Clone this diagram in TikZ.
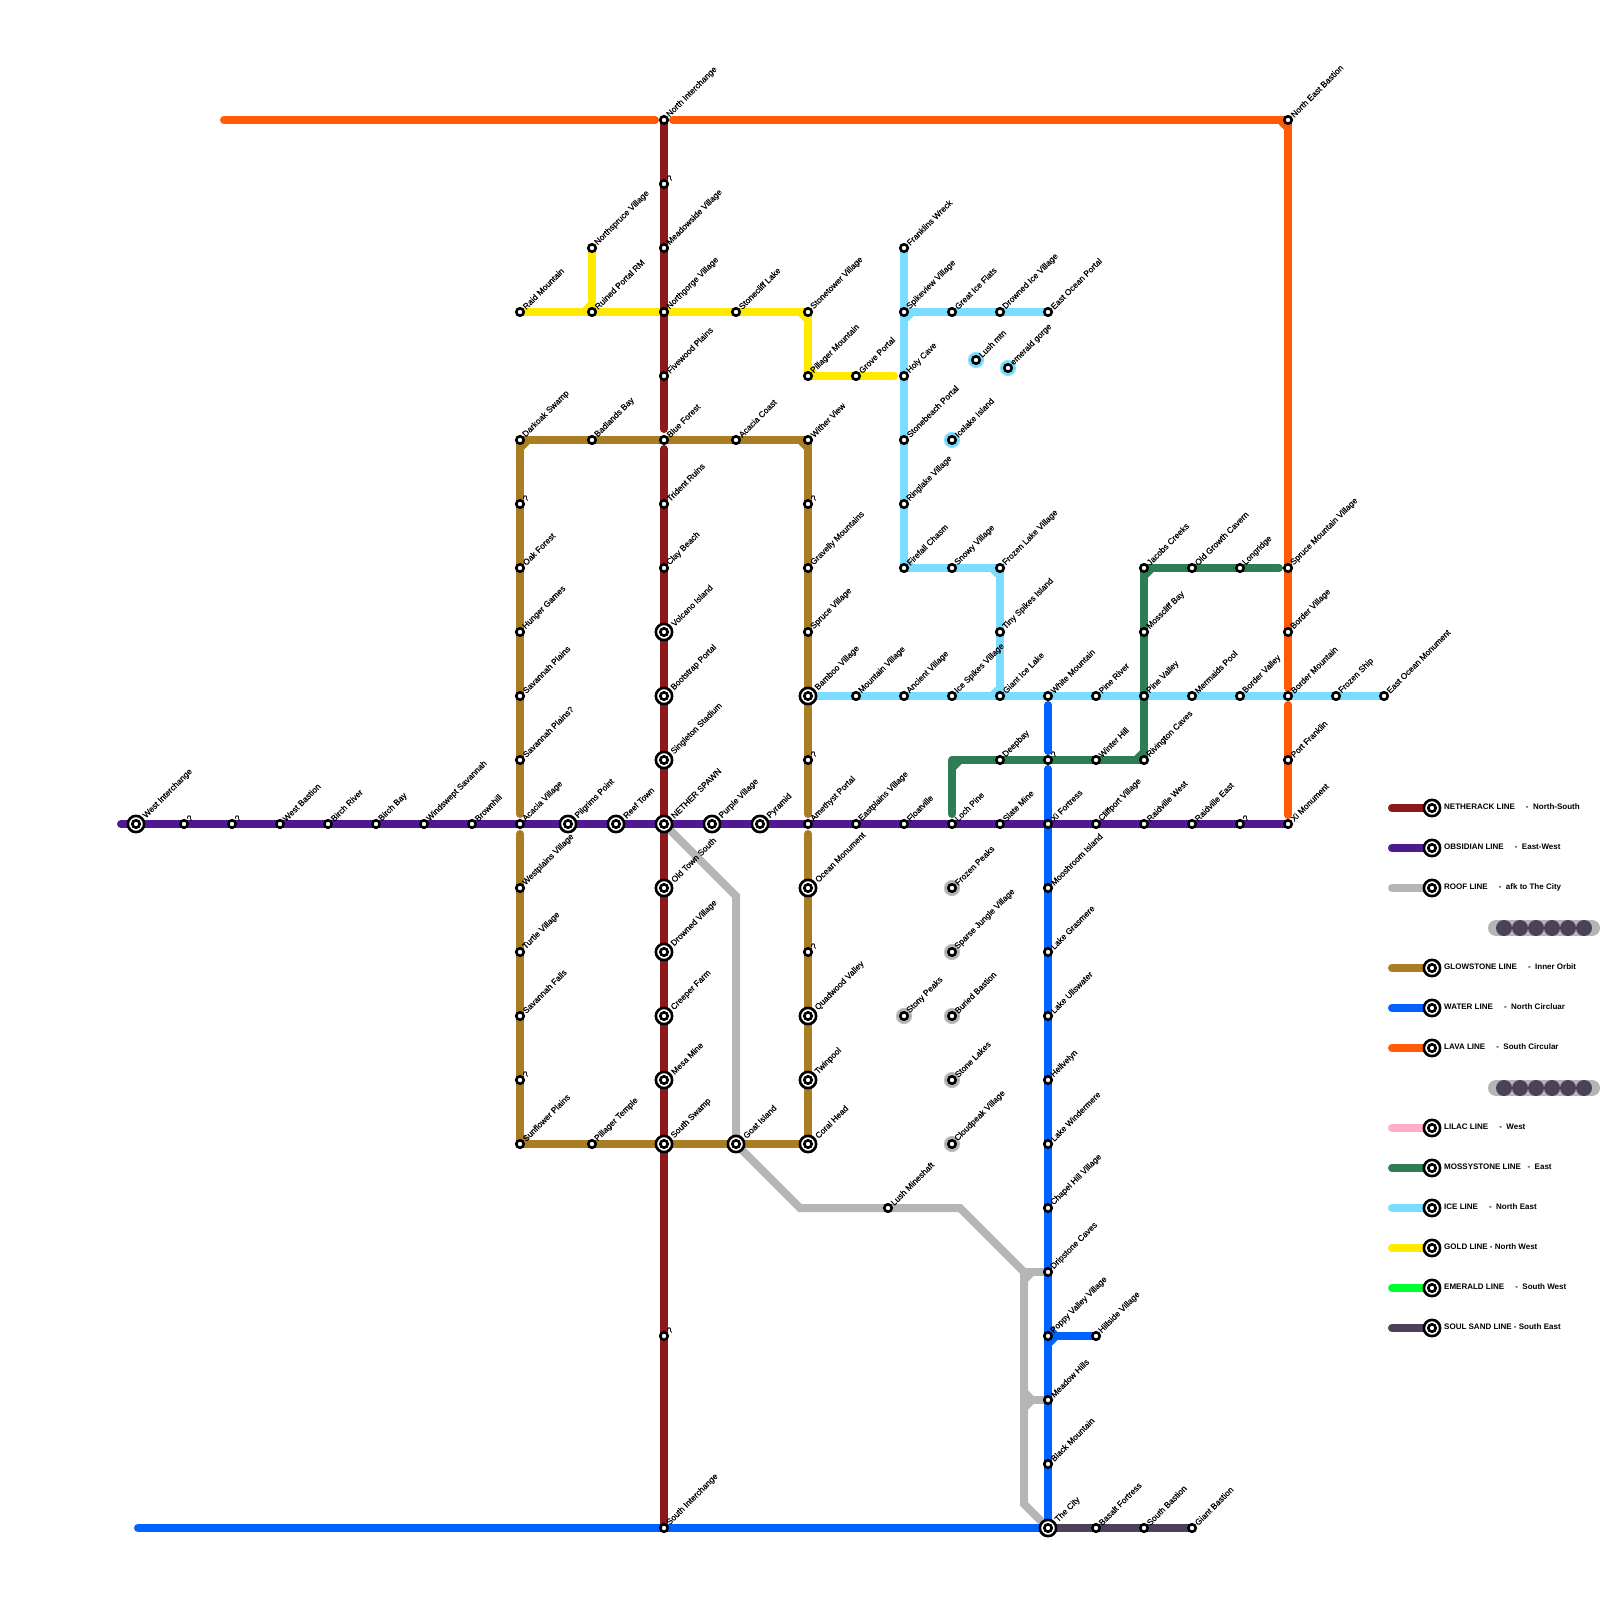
\documentclass[tikz,border=0pt]{standalone}
\usepackage{fontspec}
\setmainfont{Liberation Sans}
\newfontfamily\stopfont[FakeBold=0.4]{Liberation Sans}
\usetikzlibrary{backgrounds}
\definecolor{nethercol}{HTML}{8B1A1C}
\definecolor{obsidiancol}{HTML}{4F1A8F}
\definecolor{roofcol}{HTML}{B5B5B5}
\definecolor{glowcol}{HTML}{A97D22}
\definecolor{watercol}{HTML}{0062FF}
\definecolor{lavacol}{HTML}{FF5A05}
\definecolor{lilaccol}{HTML}{FFAEC9}
\definecolor{mosscol}{HTML}{2E7D54}
\definecolor{icecol}{HTML}{7ADCFF}
\definecolor{goldcol}{HTML}{FFEA00}
\definecolor{emeraldcol}{HTML}{00FF2E}
\definecolor{soulcol}{HTML}{4D4059}

\begin{document}
\begin{tikzpicture}[
                x=1pt, y=-1pt,
                stop/.style={draw=black, line width=2.6pt, circle, fill=white, inner sep=0pt, outer sep=0pt, minimum size=7.5pt},
                bigstop/.style={draw=black, line width=2.6pt, circle, fill=white, inner sep=0pt, outer sep=0pt, minimum size=16.3pt,
                    path picture={\draw[line width=2.6pt] (path picture bounding box.center) circle (3.7pt);}},
                maplabel/.style={font=\stopfont\fontsize{8.4}{10}\selectfont, inner sep=0pt, xshift=0.3pt, yshift=4pt, rotate=45},
                bigmaplabel/.style={font=\stopfont\fontsize{8.4}{10}\selectfont, inner sep=0pt, xshift=0.3pt, yshift=7pt, rotate=45},
                keylabel/.style={font=\bfseries\fontsize{8}{10}\selectfont, inner sep=0pt, anchor=west},
                souldot/.style={circle, fill=soulcol, inner sep=0pt, minimum size=16pt},
                track/.style={line width=8pt, line cap=round, line join=round},
                netherline/.style={track, draw=nethercol},
                obsidianline/.style={track, draw=obsidiancol},
                roofline/.style={track, draw=roofcol, line join=miter},
                glowline/.style={track, draw=glowcol},
                waterline/.style={track, draw=watercol},
                lavaline/.style={track, draw=lavacol},
                lilacline/.style={track, draw=lilaccol},
                mossline/.style={track, draw=mosscol},
                iceline/.style={track, draw=icecol},
                goldline/.style={track, draw=goldcol},
                emeraldline/.style={track, draw=emeraldcol},
                soulline/.style={track, draw=soulcol}
            ]
            \useasboundingbox (0,0) rectangle (1600,1600);

            % Netherack stations
            \node[stop, label={[maplabel]right:North Interchange}] (northint) at (664,120) {};
            \node[stop, label={[maplabel]right:?}] (netherqa) at (664,184) {};
            \node[stop, label={[maplabel]right:Meadowside Village}] (meadowside) at (664,248) {};
            \node[stop, label={[maplabel]right:Northgorge Village}] (northgorge) at (664,312) {};
            \node[stop, label={[maplabel]right:Fivewood Plains}] (fivewood) at (664,376) {};
            \node[stop, label={[maplabel]right:Blue Forest}] (blueforest) at (664,440) {};
            \node[stop, label={[maplabel]right:Trident Ruins}] (trident) at (664,504) {};
            \node[stop, label={[maplabel]right:Clay Beach}] (claybeach) at (664,568) {};
            \node[bigstop, label={[bigmaplabel]right:Volcano Island}] (volcano) at (664,632) {};
            \node[bigstop, label={[bigmaplabel]right:Bootstrap Portal}] (bootstrap) at (664,696) {};
            \node[bigstop, label={[bigmaplabel]right:Singleton Stadium}] (singleton) at (664,760) {};
            \node[bigstop, label={[bigmaplabel]right:NETHER SPAWN}] (netherspawn) at (664,824) {};
            \node[bigstop, label={[bigmaplabel]right:Old Town South}] (oldtown) at (664,888) {};
            \node[bigstop, label={[bigmaplabel]right:Drowned Village}] (drowned) at (664,952) {};
            \node[bigstop, label={[bigmaplabel]right:Creeper Farm}] (creeper) at (664,1016) {};
            \node[bigstop, label={[bigmaplabel]right:Mesa Mine}] (mesa) at (664,1080) {};
            \node[bigstop, label={[bigmaplabel]right:South Swamp}] (southswamp) at (664,1144) {};
            \node[stop, label={[maplabel]right:?}] (netherqb) at (664,1336) {};
            \node[stop, label={[maplabel]right:South Interchange}] (southint) at (664,1528) {};

            % Glowstone stations
            \node[stop, label={[maplabel]right:Darkoak Swamp}] (darkoak) at (520,440) {};
            \node[stop, label={[maplabel]right:?}] (glowqa) at (520,504) {};
            \node[stop, label={[maplabel]right:Oak Forest}] (oakforest) at (520,568) {};
            \node[stop, label={[maplabel]right:Hunger Games}] (hunger) at (520,632) {};
            \node[stop, label={[maplabel]right:Savannah Plains}] (savplains) at (520,696) {};
            \node[stop, label={[maplabel]right:Savannah Plains?}] (savplainsq) at (520,760) {};
            \node[stop, label={[maplabel]right:Acacia Village}] (acacia) at (520,824) {};
            \node[stop, label={[maplabel]right:Westplains Village}] (westplains) at (520,888) {};
            \node[stop, label={[maplabel]right:Turtle Village}] (turtle) at (520,952) {};
            \node[stop, label={[maplabel]right:Savannah Falls}] (savfalls) at (520,1016) {};
            \node[stop, label={[maplabel]right:?}] (glowqb) at (520,1080) {};
            \node[stop, label={[maplabel]right:Sunflower Plains}] (sunflower) at (520,1144) {};
            \node[stop, label={[maplabel]right:Pillager Temple}] (pilltemple) at (592,1144) {};
            \node[bigstop, label={[bigmaplabel]right:Goat Island}] (goat) at (736,1144) {};
            \node[bigstop, label={[bigmaplabel]right:Coral Head}] (coral) at (808,1144) {};
            \node[stop, label={[maplabel]right:Badlands Bay}] (badlands) at (592,440) {};
            \node[stop, label={[maplabel]right:Acacia Coast}] (acaciacoast) at (736,440) {};
            \node[stop, label={[maplabel]right:Wither View}] (wither) at (808,440) {};
            \node[stop, label={[maplabel]right:?}] (glowqc) at (808,504) {};
            \node[stop, label={[maplabel]right:Gravelly Mountains}] (gravelly) at (808,568) {};
            \node[stop, label={[maplabel]right:Spruce Village}] (sprucev) at (808,632) {};
            \node[bigstop, label={[bigmaplabel]right:Bamboo Village}] (bamboo) at (808,696) {};
            \node[stop, label={[maplabel]right:?}] (glowqd) at (808,760) {};
            \node[stop, label={[maplabel]right:Amethyst Portal}] (amethyst) at (808,824) {};
            \node[bigstop, label={[bigmaplabel]right:Ocean Monument}] (oceanmon) at (808,888) {};
            \node[stop, label={[maplabel]right:?}] (glowqe) at (808,952) {};
            \node[bigstop, label={[bigmaplabel]right:Quadwood Valley}] (quadwood) at (808,1016) {};
            \node[bigstop, label={[bigmaplabel]right:Twinpool}] (twinpool) at (808,1080) {};

            % Obsidian stations
            \node[bigstop, label={[bigmaplabel]right:West Interchange}] (westint) at (136,824) {};
            \node[stop, label={[maplabel]right:?}] (obsqa) at (184,824) {};
            \node[stop, label={[maplabel]right:?}] (obsqb) at (232,824) {};
            \node[stop, label={[maplabel]right:West Bastion}] (westbastion) at (280,824) {};
            \node[stop, label={[maplabel]right:Birch River}] (birchriver) at (328,824) {};
            \node[stop, label={[maplabel]right:Birch Bay}] (birchbay) at (376,824) {};
            \node[stop, label={[maplabel]right:Windswept Savannah}] (windswept) at (424,824) {};
            \node[stop, label={[maplabel]right:Brownhill}] (brownhill) at (472,824) {};
            \node[bigstop, label={[bigmaplabel]right:Pilgrims Point}] (pilgrims) at (568,824) {};
            \node[bigstop, label={[bigmaplabel]right:Reef Town}] (reeftown) at (616,824) {};
            \node[bigstop, label={[bigmaplabel]right:Purple Village}] (purplev) at (712,824) {};
            \node[bigstop, label={[bigmaplabel]right:Pyramid}] (pyramid) at (760,824) {};
            \node[stop, label={[maplabel]right:Eastplains Village}] (eastplains) at (856,824) {};
            \node[stop, label={[maplabel]right:Floatville}] (floatville) at (904,824) {};
            \node[stop, label={[maplabel]right:Loch Pine}] (lochpine) at (952,824) {};
            \node[stop, label={[maplabel]right:Slate Mine}] (slatemine) at (1000,824) {};
            \node[stop, label={[maplabel]right:Xi Fortress}] (xifort) at (1048,824) {};
            \node[stop, label={[maplabel]right:Cliffport Village}] (cliffport) at (1096,824) {};
            \node[stop, label={[maplabel]right:Raidville West}] (raidwest) at (1144,824) {};
            \node[stop, label={[maplabel]right:Raidville East}] (raideast) at (1192,824) {};
            \node[stop, label={[maplabel]right:?}] (obsqc) at (1240,824) {};
            \node[stop, label={[maplabel]right:Xi Monument}] (ximon) at (1288,824) {};

            % Gold stations
            \node[stop, label={[maplabel]right:Raid Mountain}] (raidmtn) at (520,312) {};
            \node[stop, label={[maplabel]right:Northspruce Village}] (northspruce) at (592,248) {};
            \node[stop, label={[maplabel]right:Ruined Portal RM}] (ruinedportal) at (592,312) {};
            \node[stop, label={[maplabel]right:Stonecliff Lake}] (stonecliff) at (736,312) {};
            \node[stop, label={[maplabel]right:Stonetower Village}] (stonetower) at (808,312) {};
            \node[stop, label={[maplabel]right:Pillager Mountain}] (pillmtn) at (808,376) {};
            \node[stop, label={[maplabel]right:Grove Portal}] (grove) at (856,376) {};

            % Ice stations
            \node[stop, label={[maplabel]right:Franklins Wreck}] (franklins) at (904,248) {};
            \node[stop, label={[maplabel]right:Spikeview Village}] (spikeview) at (904,312) {};
            \node[stop, label={[maplabel]right:Holy Cave}] (holycave) at (904,376) {};
            \node[stop, label={[maplabel]right:Stonebeach Portal}] (stonebeach) at (904,440) {};
            \node[stop, label={[maplabel]right:Ringlake Village}] (ringlake) at (904,504) {};
            \node[stop, label={[maplabel]right:Firefall Chasm}] (firefall) at (904,568) {};
            \node[stop, label={[maplabel]right:Great Ice Flats}] (greatice) at (952,312) {};
            \node[stop, label={[maplabel]right:Drowned Ice Village}] (drownedice) at (1000,312) {};
            \node[stop, label={[maplabel]right:East Ocean Portal}] (eastportal) at (1048,312) {};
            \node[stop, label={[maplabel]right:Lush mtn}] (lushmtn) at (976,360) {};
            \node[stop, label={[maplabel]right:emerald gorge}] (emgorge) at (1008,368) {};
            \node[stop, label={[maplabel]right:Icelake Island}] (icelake) at (952,440) {};
            \node[stop, label={[maplabel]right:Snowy Village}] (snowy) at (952,568) {};
            \node[stop, label={[maplabel]right:Frozen Lake Village}] (frozenlake) at (1000,568) {};
            \node[stop, label={[maplabel]right:Tiny Spikes Island}] (tinyspikes) at (1000,632) {};
            \node[stop, label={[maplabel]right:Giant Ice Lake}] (giantice) at (1000,696) {};
            \node[stop, label={[maplabel]right:Mountain Village}] (mountainv) at (856,696) {};
            \node[stop, label={[maplabel]right:Ancient Village}] (ancient) at (904,696) {};
            \node[stop, label={[maplabel]right:Ice Spikes Village}] (icespikes) at (952,696) {};
            \node[stop, label={[maplabel]right:White Mountain}] (whitemtn) at (1048,696) {};
            \node[stop, label={[maplabel]right:Pine River}] (pineriver) at (1096,696) {};
            \node[stop, label={[maplabel]right:Pine Valley}] (pinevalley) at (1144,696) {};
            \node[stop, label={[maplabel]right:Mermaids Pool}] (mermaids) at (1192,696) {};
            \node[stop, label={[maplabel]right:Border Valley}] (bordervalley) at (1240,696) {};
            \node[stop, label={[maplabel]right:Border Mountain}] (bordermtn) at (1288,696) {};
            \node[stop, label={[maplabel]right:Frozen Ship}] (frozenship) at (1336,696) {};
            \node[stop, label={[maplabel]right:East Ocean Monument}] (eastmon) at (1384,696) {};

            % Mossystone stations
            \node[stop, label={[maplabel]right:Jacobs Creeks}] (jacobs) at (1144,568) {};
            \node[stop, label={[maplabel]right:Old Growth Cavern}] (oldgrowth) at (1192,568) {};
            \node[stop, label={[maplabel]right:Longridge}] (longridge) at (1240,568) {};
            \node[stop, label={[maplabel]right:Mosscliff Bay}] (mosscliff) at (1144,632) {};
            \node[stop, label={[maplabel]right:Rivington Caves}] (rivington) at (1144,760) {};
            \node[stop, label={[maplabel]right:Winter Hill}] (winterhill) at (1096,760) {};
            \node[stop, label={[maplabel]right:?}] (mossq) at (1048,760) {};
            \node[stop, label={[maplabel]right:Deepbay}] (deepbay) at (1000,760) {};

            % Lava stations
            \node[stop, label={[maplabel]right:North East Bastion}] (nebastion) at (1288,120) {};
            \node[stop, label={[maplabel]right:Spruce Mountain Village}] (sprucemtn) at (1288,568) {};
            \node[stop, label={[maplabel]right:Border Village}] (borderv) at (1288,632) {};
            \node[stop, label={[maplabel]right:Port Franklin}] (portfranklin) at (1288,760) {};

            % Roof stations
            \node[stop, label={[maplabel]right:Frozen Peaks}] (frozenpeaks) at (952,888) {};
            \node[stop, label={[maplabel]right:Sparse Jungle Village}] (sparse) at (952,952) {};
            \node[stop, label={[maplabel]right:Buried Bastion}] (buried) at (952,1016) {};
            \node[stop, label={[maplabel]right:Stony Peaks}] (stony) at (904,1016) {};
            \node[stop, label={[maplabel]right:Stone Lakes}] (stonelakes) at (952,1080) {};
            \node[stop, label={[maplabel]right:Cloudpeak Village}] (cloudpeak) at (952,1144) {};
            \node[stop, label={[maplabel]right:Lush Mineshaft}] (lushmine) at (888,1208) {};

            % Water stations
            \node[stop, label={[maplabel]right:Mooshroom Island}] (mooshroom) at (1048,888) {};
            \node[stop, label={[maplabel]right:Lake Grasmere}] (grasmere) at (1048,952) {};
            \node[stop, label={[maplabel]right:Lake Ullswater}] (ullswater) at (1048,1016) {};
            \node[stop, label={[maplabel]right:Hellvelyn}] (hellvelyn) at (1048,1080) {};
            \node[stop, label={[maplabel]right:Lake Windermere}] (windermere) at (1048,1144) {};
            \node[stop, label={[maplabel]right:Chapel Hill Village}] (chapelhill) at (1048,1208) {};
            \node[stop, label={[maplabel]right:Dripstone Caves}] (dripstone) at (1048,1272) {};
            \node[stop, label={[maplabel]right:Poppy Valley Village}] (poppy) at (1048,1336) {};
            \node[stop, label={[maplabel]right:Hillside Village}] (hillside) at (1096,1336) {};
            \node[stop, label={[maplabel]right:Meadow Hills}] (meadowhills) at (1048,1400) {};
            \node[stop, label={[maplabel]right:Black Mountain}] (blackmtn) at (1048,1464) {};
            \node[bigstop, label={[bigmaplabel]right:The City}] (thecity) at (1048,1528) {};
            \node[stop, label={[maplabel]right:Basalt Fortress}] (basalt) at (1096,1528) {};
            \node[stop, label={[maplabel]right:South Bastion}] (southbastion) at (1144,1528) {};
            \node[stop, label={[maplabel]right:Giant Bastion}] (giantbastion) at (1192,1528) {};

            % Key
            \node[bigstop] (keynether) at (1432,808) {};
            \node[bigstop] (keyobsidian) at (1432,848) {};
            \node[bigstop] (keyroof) at (1432,888) {};
            \node[bigstop] (keyglow) at (1432,968) {};
            \node[bigstop] (keywater) at (1432,1008) {};
            \node[bigstop] (keylava) at (1432,1048) {};
            \node[bigstop] (keylilac) at (1432,1128) {};
            \node[bigstop] (keymoss) at (1432,1168) {};
            \node[bigstop] (keyice) at (1432,1208) {};
            \node[bigstop] (keygold) at (1432,1248) {};
            \node[bigstop] (keyemerald) at (1432,1288) {};
            \node[bigstop] (keysoul) at (1432,1328) {};
            \node[keylabel] (keytexta) at (1444,807) {NETHERACK LINE~~~~~-~~North-South};
            \node[keylabel] (keytextb) at (1444,847) {OBSIDIAN LINE~~~~~-~~East-West};
            \node[keylabel] (keytextc) at (1444,887) {ROOF LINE~~~~~-~~afk to The City};
            \node[keylabel] (keytextd) at (1444,967) {GLOWSTONE LINE~~~~~-~~Inner Orbit};
            \node[keylabel] (keytexte) at (1444,1007) {WATER LINE~~~~~-~~North Circluar};
            \node[keylabel] (keytextf) at (1444,1047) {LAVA LINE~~~~~-~~South Circular};
            \node[keylabel] (keytextg) at (1444,1127) {LILAC LINE~~~~~-~~West};
            \node[keylabel] (keytexth) at (1444,1167) {MOSSYSTONE LINE~~~-~~East};
            \node[keylabel] (keytexti) at (1444,1207) {ICE LINE~~~~~-~~North East};
            \node[keylabel] (keytextj) at (1444,1247) {GOLD LINE - North West};
            \node[keylabel] (keytextk) at (1444,1287) {EMERALD LINE~~~~~-~~South West};
            \node[keylabel] (keytextl) at (1444,1327) {SOUL SAND LINE - South East};
            \node[souldot] (dota1) at (1504,928) {};
            \node[souldot] (dota2) at (1520,928) {};
            \node[souldot] (dota3) at (1536,928) {};
            \node[souldot] (dota4) at (1552,928) {};
            \node[souldot] (dota5) at (1568,928) {};
            \node[souldot] (dota6) at (1584,928) {};
            \node[souldot] (dotb1) at (1504,1088) {};
            \node[souldot] (dotb2) at (1520,1088) {};
            \node[souldot] (dotb3) at (1536,1088) {};
            \node[souldot] (dotb4) at (1552,1088) {};
            \node[souldot] (dotb5) at (1568,1088) {};
            \node[souldot] (dotb6) at (1584,1088) {};

            % Free ends and bends
            \coordinate (lavastart) at (224,120);
            \coordinate (obsidianstart) at (121,824);
            \coordinate (waterstart) at (138,1528);
            \coordinate (mossbend) at (952,760);
            \coordinate (roofa) at (736,896);
            \coordinate (roofb) at (800,1208);
            \coordinate (roofc) at (960,1208);
            \coordinate (roofd) at (1024,1272);
            \coordinate (roofe) at (1024,1400);
            \coordinate (rooff) at (1024,1504);

            \begin{scope}[on background layer]
                \fill[white] (0,0) rectangle (1600,1600);

                % Lines
                \draw[lavaline] (lavastart) -- ([xshift=-9pt]northint.center);
                \draw[lavaline] ([xshift=9pt]northint.center) -- (nebastion.center) -- ([yshift=8pt]bordermtn.center);
                \draw[lavaline] ([xshift=-8pt]nebastion.center) -- ([yshift=-8pt]nebastion.center);
                \draw[lavaline] ([yshift=-9pt]bordermtn.center) -- ([yshift=9pt]ximon.center);

                \draw[goldline] (raidmtn.center) -- (stonetower.center) -- (pillmtn.center) -- ([xshift=-10pt]holycave.center);
                \draw[goldline] (northspruce.center) -- (ruinedportal.center);
                \draw[goldline] ([yshift=8pt]ruinedportal.center) -- ([xshift=-8pt]ruinedportal.center);
                \draw[goldline] ([xshift=-8pt]stonetower.center) -- ([yshift=-8pt]stonetower.center);
                \draw[goldline] ([yshift=8pt]pillmtn.center) -- ([xshift=8pt]pillmtn.center);

                \draw[roofline] (netherspawn.center) -- (roofa) -- (goat.center) -- (roofb) -- (roofc) -- (roofd) -- (rooff) -- (thecity.center);
                \draw[roofline] (roofd) -- (dripstone.center);
                \draw[roofline] (roofe) -- (meadowhills.center);
                \draw[roofline] ([yshift=-8pt]roofd) -- ([xshift=8pt]roofd);
                \draw[roofline] ([yshift=8pt]roofe) -- ([xshift=8pt]roofe) -- ([yshift=-8pt]roofe);

                \draw[netherline] (northint.center) -- ([yshift=11pt]blueforest.center);
                \draw[netherline] ([yshift=-9pt]blueforest.center) -- (southint.center);

                \draw[iceline] (franklins.center) -- (firefall.center) -- (frozenlake.center) -- (giantice.center);
                \draw[iceline] (spikeview.center) -- (eastportal.center);
                \draw[iceline] ([yshift=-8pt]spikeview.center) -- ([xshift=8pt]spikeview.center);
                \draw[iceline] ([yshift=8pt]firefall.center) -- ([xshift=8pt]firefall.center);
                \draw[iceline] ([xshift=-8pt]frozenlake.center) -- ([yshift=-8pt]frozenlake.center);
                \draw[iceline] ([yshift=8pt]giantice.center) -- ([xshift=-8pt]giantice.center);
                \draw[iceline] (bamboo.center) -- (eastmon.center);
                \fill[icecol] (lushmtn.center) circle (8pt);
                \fill[icecol] (emgorge.center) circle (8pt);
                \fill[icecol] (icelake.center) circle (8pt);

                \fill[roofcol] (frozenpeaks.center) circle (8pt);
                \fill[roofcol] (sparse.center) circle (8pt);
                \fill[roofcol] (buried.center) circle (8pt);
                \fill[roofcol] (stony.center) circle (8pt);
                \fill[roofcol] (stonelakes.center) circle (8pt);
                \fill[roofcol] (cloudpeak.center) circle (8pt);

                \draw[glowline] ([yshift=10pt]acacia.center) -- (darkoak.center) -- (wither.center) -- ([yshift=10pt]amethyst.center);
                \draw[glowline] ([yshift=-10pt]acacia.center) -- (sunflower.center) -- (coral.center) -- ([yshift=-10pt]amethyst.center);
                \draw[glowline] ([yshift=-8pt]darkoak.center) -- ([xshift=8pt]darkoak.center);
                \draw[glowline] ([xshift=-8pt]wither.center) -- ([yshift=-8pt]wither.center);
                \draw[glowline] ([yshift=8pt]sunflower.center) -- ([xshift=8pt]sunflower.center);

                \draw[obsidianline] (obsidianstart) -- (ximon.center);

                \draw[waterline] (waterstart) -- (thecity.center);
                \draw[waterline] ([yshift=-9pt]whitemtn.center) -- ([yshift=9pt]mossq.center);
                \draw[waterline] ([yshift=-9pt]mossq.center) -- (thecity.center);
                \draw[waterline] (poppy.center) -- (hillside.center);
                \draw[waterline] ([yshift=8pt]poppy.center) -- ([xshift=8pt]poppy.center) -- ([yshift=-8pt]poppy.center);

                \draw[mossline] ([yshift=10pt]lochpine.center) -- (mossbend) -- (rivington.center) -- (jacobs.center) -- ([xshift=-9pt]sprucemtn.center);
                \draw[mossline] ([yshift=-8pt]mossbend) -- ([xshift=8pt]mossbend);
                \draw[mossline] ([xshift=-8pt]rivington.center) -- ([yshift=8pt]rivington.center);
                \draw[mossline] ([yshift=-8pt]jacobs.center) -- ([xshift=8pt]jacobs.center);

                \draw[soulline] (thecity.center) -- (giantbastion.center);

                % Key lines
                \draw[netherline] ([xshift=-40pt]keynether.center) -- (keynether.center);
                \draw[obsidianline] ([xshift=-40pt]keyobsidian.center) -- (keyobsidian.center);
                \draw[roofline, line cap=round] ([xshift=-40pt]keyroof.center) -- (keyroof.center);
                \draw[glowline] ([xshift=-40pt]keyglow.center) -- (keyglow.center);
                \draw[waterline] ([xshift=-40pt]keywater.center) -- (keywater.center);
                \draw[lavaline] ([xshift=-40pt]keylava.center) -- (keylava.center);
                \draw[lilacline] ([xshift=-40pt]keylilac.center) -- (keylilac.center);
                \draw[mossline] ([xshift=-40pt]keymoss.center) -- (keymoss.center);
                \draw[iceline] ([xshift=-40pt]keyice.center) -- (keyice.center);
                \draw[goldline] ([xshift=-40pt]keygold.center) -- (keygold.center);
                \draw[emeraldline] ([xshift=-40pt]keyemerald.center) -- (keyemerald.center);
                \draw[soulline] ([xshift=-40pt]keysoul.center) -- (keysoul.center);
                \draw[roofline, line width=16pt] ([xshift=-8pt]dota1.center) -- ([xshift=8pt]dota6.center);
                \draw[roofline, line width=16pt] ([xshift=-8pt]dotb1.center) -- ([xshift=8pt]dotb6.center);
            \end{scope}

        \end{tikzpicture}
\end{document}
